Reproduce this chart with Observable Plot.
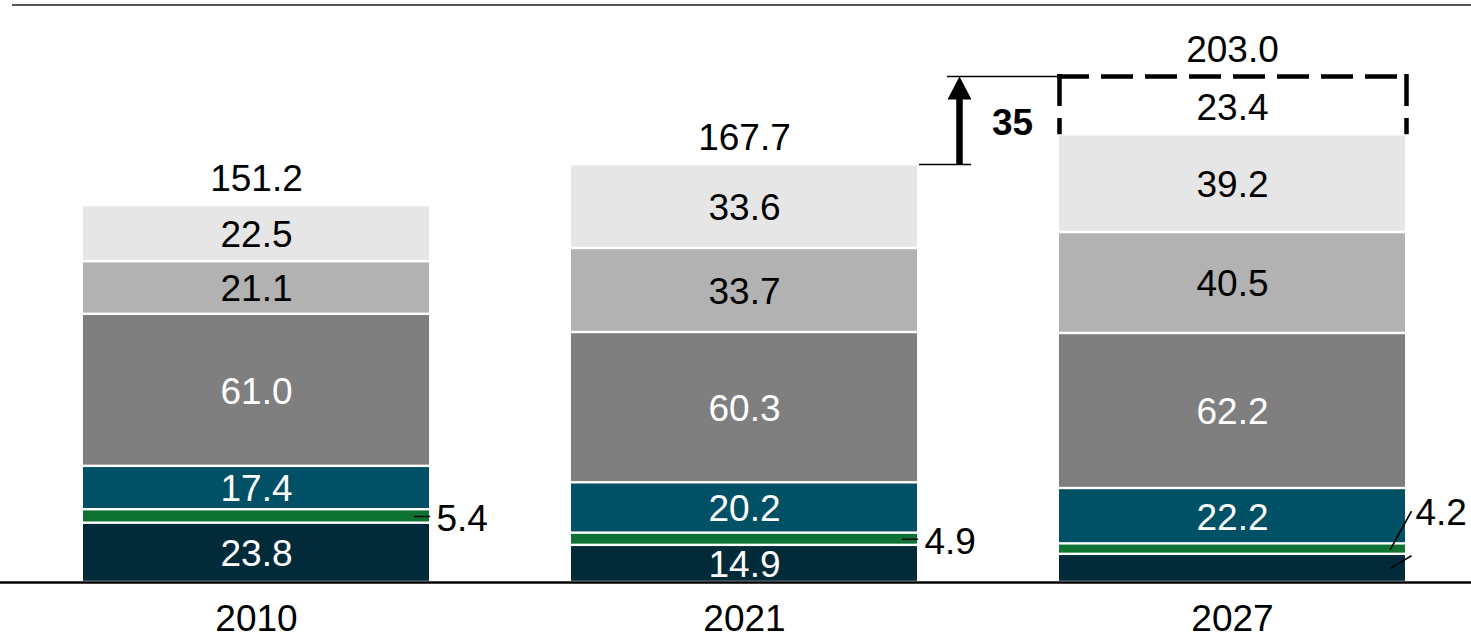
<!DOCTYPE html>
<html>
<head>
<meta charset="utf-8">
<script src="https://cdn.jsdelivr.net/npm/d3@7"></script>
<script src="https://cdn.jsdelivr.net/npm/@observablehq/plot@0.6"></script>
<style>
  html, body { margin: 0; padding: 0; background: #fff; }
  #wrap { position: relative; width: 1471px; height: 641px; overflow: hidden; }
  #topline { position: absolute; left: 12px; right: 0; top: 4px; border-top: 2px solid #555; }
  #wrap svg { display: block; }
</style>
</head>
<body>
<div id="wrap"><div id="topline"></div></div>
<script>
// ---- data ----
const years = ["2010", "2021", "2027"];
const seriesNames = ["navy", "green", "teal", "gray", "lightGray", "paleGray"];
const navy      = [23.8, 14.9, 11.3];
const green     = [5.4, 4.9, 4.2];
const teal      = [17.4, 20.2, 22.2];
const gray      = [61.0, 60.3, 62.2];
const lightGray = [21.1, 33.7, 40.5];
const paleGray  = [22.5, 33.6, 39.2];
const forecast  = [0, 0, 23.4];
const totals    = [151.2, 167.7, 203.0];

// ---- styles ----
const colors     = ["#022b3a", "#0e7332", "#005066", "#7f7f7f", "#b2b2b2", "#e6e6e6"];
const textColors = ["white", "white", "white", "white", "black", "black"];
const FONT = "'Liberation Sans', Arial, Helvetica, sans-serif";
const FS = 37;

// ---- build stacked rows ----
const seriesValues = [navy, green, teal, gray, lightGray, paleGray];
const rows = [];
years.forEach((year, i) => {
  let base = 0;
  seriesNames.forEach((s, k) => {
    const v = seriesValues[k][i];
    rows.push({year, series: s, k, value: v, y1: base, y2: base + v});
    base += v;
  });
});
const solidTop = years.map((y) => rows.filter(r => r.year === y).reduce((a, r) => Math.max(a, r.y2), 0));
const forecastRows = years.map((year, i) => ({year, base: solidTop[i], top: solidTop[i] + forecast[i], value: forecast[i]}))
  .filter(d => d.value > 0);
const totalRows = years.map((year, i) => ({year, total: totals[i]}));
const mid = r => (r.y1 + r.y2) / 2;

const greenRows = rows.filter(r => r.series === "green");
const navyRows = rows.filter(r => r.series === "navy");
const lastYear = years[years.length - 1];

const xOpts = {type: "band", domain: years, range: [83, 1405], paddingInner: 0.291, paddingOuter: 0, align: 0.5};
const bw = Plot.scale({x: xOpts}).bandwidth;
const hb = bw / 2;

// Increase annotation
const incFrom = {year: years[1], v: totals[1]};
const incTo = {year: years[2], v: totals[2]};
const incLabel = String(Math.round(totals[2] - totals[1]));

// custom shapes
const lineShape = {draw(ctx, l) { ctx.moveTo(0, 0); ctx.lineTo(0, -l); }};
const headSymbol = {draw(ctx) { ctx.moveTo(0, 0); ctx.lineTo(12, 23); ctx.lineTo(-12, 23); ctx.closePath(); }};

const dash = "32,12";

const chart = Plot.plot({
  width: 1471,
  height: 641,
  marginTop: 76,
  marginBottom: 59,
  marginLeft: 0,
  marginRight: 0,
  style: {fontFamily: FONT, background: "transparent", overflow: "visible"},
  x: {...xOpts, axis: null},
  y: {domain: [0, d3.max(totals)], axis: null},
  color: {domain: seriesNames, range: colors},
  marks: [
    // stacked bars
    Plot.barY(rows, {x: "year", y1: "y1", y2: "y2", fill: "series", insetTop: 1.2, insetBottom: 1.2}),

    // dashed forecast box
    Plot.ruleY(forecastRows, {x1: "year", x2: "year", y: "top", stroke: "black", strokeWidth: 4.5, strokeDasharray: dash, insetLeft: -2, insetRight: -1}),
    Plot.ruleX(forecastRows, {x: "year", y1: "top", y2: "base", dx: -hb, stroke: "black", strokeWidth: 4.5, strokeDasharray: dash, insetTop: -2}),
    Plot.ruleX(forecastRows, {x: "year", y1: "top", y2: "base", dx: hb + 1, stroke: "black", strokeWidth: 4.5, strokeDasharray: dash, insetTop: -2}),
    Plot.text(forecastRows, {x: "year", y: d => (d.base + d.top) / 2, text: d => d.value.toFixed(1), fontSize: FS, fill: "black", dy: 2}),

    // baseline
    Plot.ruleY([0], {stroke: "black", strokeWidth: 2.5}),

    // inside labels
    Plot.text(rows.filter(r => r.value >= 12), {
      x: "year", y: mid, text: d => d.value.toFixed(1),
      fill: d => textColors[d.k], fontSize: FS, dy: 1.5
    }),

    // totals
    Plot.text(totalRows, {x: "year", y: "total", text: d => d.total.toFixed(1), fontSize: FS, fill: "black", dy: -26}),

    // external green labels (horizontal leaders)
    Plot.vector(greenRows.filter(r => r.year !== lastYear), {
      x: "year", y: mid, dx: hb - 15, rotate: 90, length: 15, anchor: "start",
      shape: lineShape, stroke: "black", strokeWidth: 1.6
    }),
    Plot.text(greenRows.filter(r => r.year !== lastYear), {
      x: "year", y: mid, dx: hb + 7, dy: 3, text: d => d.value.toFixed(1),
      textAnchor: "start", fontSize: FS, fill: "black"
    }),
    // 2027 diagonal leaders
    Plot.vector(greenRows.filter(r => r.year === lastYear), {
      x: "year", y: mid, dx: hb - 15, rotate: 29, length: 42.7, anchor: "start",
      shape: lineShape, stroke: "black", strokeWidth: 1.6
    }),
    Plot.vector(navyRows.filter(r => r.year === lastYear), {
      x: "year", y: mid, dx: hb - 15, rotate: 59, length: 24, anchor: "start",
      shape: lineShape, stroke: "black", strokeWidth: 1.6
    }),
    Plot.text(greenRows.filter(r => r.year === lastYear), {
      x: "year", y: mid, dx: hb + 10, dy: -35.5, text: d => d.value.toFixed(1),
      textAnchor: "start", fontSize: FS, fill: "black"
    }),

    // increase annotation
    Plot.ruleY([incTo], {x1: "year", x2: "year", y: "v", stroke: "black", strokeWidth: 1.5, insetLeft: -112, insetRight: 348}),
    Plot.ruleY([incFrom], {x1: "year", x2: "year", y: "v", stroke: "black", strokeWidth: 1.5, insetLeft: 348, insetRight: -54}),
    Plot.ruleX([{year: incFrom.year, a: incTo.v, b: incFrom.v}], {x: "year", y1: "a", y2: "b", dx: hb + 42, insetTop: 20, stroke: "black", strokeWidth: 6.5}),
    Plot.dot([incTo], {x: () => incFrom.year, y: "v", dx: hb + 42, symbol: headSymbol, r: 5, fill: "black", stroke: "none"}),
    Plot.text([{year: incFrom.year, v: (incFrom.v + incTo.v) / 2}], {
      x: "year", y: "v", dx: hb + 95, dy: 3, text: () => incLabel,
      fontSize: FS, fontWeight: "bold", fill: "black"
    }),

    // year labels
    Plot.text(years, {x: d => d, frameAnchor: "bottom", lineAnchor: "middle", dy: 37, fontSize: FS, fill: "black"})
  ]
});

document.getElementById("wrap").appendChild(chart);
</script>
</body>
</html>
